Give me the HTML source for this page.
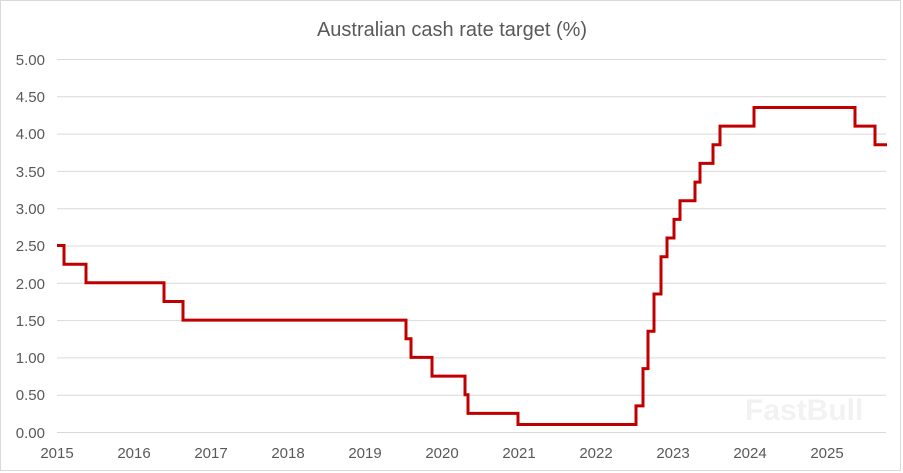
<!DOCTYPE html><html><head><style>body{margin:0;background:#fff}svg{display:block;font-family:"Liberation Sans",sans-serif}</style></head><body>
<svg width="903" height="473" viewBox="0 0 903 473">
<rect x="0.5" y="0.5" width="900" height="470" fill="#fff" stroke="#d9d9d9"/>
<text x="452" y="36" text-anchor="middle" font-size="20" fill="#595959">Australian cash rate target (%)</text>
<g stroke="#d9d9d9" stroke-width="1">
<line x1="57" x2="886" y1="59.5" y2="59.5"/><line x1="57" x2="886" y1="96.8" y2="96.8"/><line x1="57" x2="886" y1="134.1" y2="134.1"/><line x1="57" x2="886" y1="171.4" y2="171.4"/><line x1="57" x2="886" y1="208.7" y2="208.7"/><line x1="57" x2="886" y1="246" y2="246"/><line x1="57" x2="886" y1="283.3" y2="283.3"/><line x1="57" x2="886" y1="320.6" y2="320.6"/><line x1="57" x2="886" y1="357.9" y2="357.9"/><line x1="57" x2="886" y1="395.2" y2="395.2"/><line x1="57" x2="886" y1="432.5" y2="432.5"/>
</g>
<g stroke="#d9d9d9" id="t"></g>
<g font-size="15" fill="#595959" text-anchor="end">
<text x="45" y="65">5.00</text><text x="45" y="102">4.50</text><text x="45" y="139">4.00</text><text x="45" y="177">3.50</text><text x="45" y="214">3.00</text><text x="45" y="251">2.50</text><text x="45" y="289">2.00</text><text x="45" y="326">1.50</text><text x="45" y="363">1.00</text><text x="45" y="400">0.50</text><text x="45" y="438">0.00</text>
</g>
<g font-size="15" fill="#595959" text-anchor="middle">
<text x="57" y="458">2015</text><text x="134" y="458">2016</text><text x="211" y="458">2017</text><text x="288" y="458">2018</text><text x="365" y="458">2019</text><text x="442" y="458">2020</text><text x="519" y="458">2021</text><text x="596" y="458">2022</text><text x="673" y="458">2023</text><text x="750" y="458">2024</text><text x="827" y="458">2025</text>
</g>
<text x="745" y="420" font-size="30" font-weight="bold" fill="#f2f2f2">FastBull</text>
<polyline fill="none" stroke="#c00000" stroke-width="3" points="57,245.5 64,245.5 64,264.2 86,264.2 86,282.8 164,282.8 164,301.5 183,301.5 183,320.1 406,320.1 406,338.8 411,338.8 411,357.4 432,357.4 432,376.1 465,376.1 465,394.7 468,394.7 468,413.4 518,413.4 518,424.5 636,424.5 636,405.9 643,405.9 643,368.6 648,368.6 648,331.3 654,331.3 654,294 661,294 661,256.7 667,256.7 667,238 674,238 674,219.4 680,219.4 680,200.7 695,200.7 695,182.1 700,182.1 700,163.4 713,163.4 713,144.8 720,144.8 720,126.1 754,126.1 754,107.5 855,107.5 855,126.1 875,126.1 875,144.8 887,144.8"/>
<script>var g=document.getElementById('t'),s='';for(var i=0;i<=43;i++){var x=57+i*19.25;s+='<line x1="'+x+'" x2="'+x+'" y1="432" y2="437"/>'}g.innerHTML=s;</script>
</svg></body></html>
